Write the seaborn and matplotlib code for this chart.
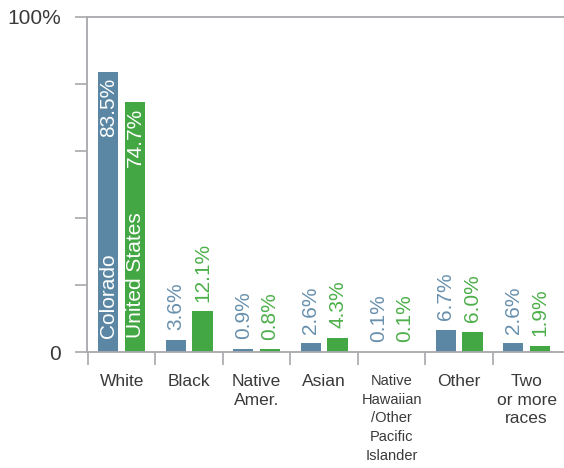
import matplotlib
matplotlib.use("Agg")
import matplotlib.pyplot as plt
import seaborn as sns
import pandas as pd
import numpy as np

categories = ["White", "Black", "Native\nAmer.", "Asian",
              "Native\nHawaiian\n/Other\nPacific\nIslander",
              "Other", "Two\nor more\nraces"]
colorado = [83.5, 3.6, 0.9, 2.6, 0.1, 6.7, 2.6]
united_states = [74.7, 12.1, 0.8, 4.3, 0.1, 6.0, 1.9]
series = ["Colorado", "United States"]
y_ticks = [0, 20, 40, 60, 80, 100]
y_tick_labels = ["0", "", "", "", "", "100%"]

bar_colors = ["#5b87a4", "#43a843"]
text_colors = ["#6890ad", "#4daf4a"]
axis_color = "#a8a8ad"
label_color = "#3a3a3a"

sns.set_theme(style="white")
plt.rcParams["font.family"] = ["Liberation Sans", "DejaVu Sans"]

df = pd.DataFrame({
    "race": categories * 2,
    "pct": colorado + united_states,
    "area": [series[0]] * len(categories) + [series[1]] * len(categories),
})

fig = plt.figure(figsize=(5.64, 4.68), dpi=100)
ax = fig.add_axes([87 / 564, 116 / 468, 477 / 564, 335 / 468])

sns.barplot(data=df, x="race", y="pct", hue="area", order=categories,
            hue_order=series, palette=bar_colors, width=0.79, gap=0.24,
            saturation=1, legend=False, ax=ax, edgecolor="none")

ax.set_xlim(-0.514, 6.553)
ax.set_ylim(0, 100)
ax.set_xlabel("")
ax.set_ylabel("")

# spines: left, bottom and a full-width rule at 100%
for side in ["left", "bottom", "top"]:
    ax.spines[side].set_visible(True)
    ax.spines[side].set_color(axis_color)
    ax.spines[side].set_linewidth(1.3)
ax.spines["right"].set_visible(False)

ax.set_yticks(y_ticks)
ax.set_yticklabels(y_tick_labels, fontsize=15, color=label_color)
ax.tick_params(axis="y", which="major", length=8.6, width=1.2,
               color=axis_color, direction="out", pad=10, left=True)

ax.set_xticks(range(len(categories)))
ax.set_xticklabels(categories, fontsize=12.5, color=label_color,
                   linespacing=1.3, va="top")
small = ax.xaxis.get_ticklabels()[4]
small.set_fontsize(10.5)
small.set_linespacing(1.42)
ax.set_xticks(np.arange(len(categories)) - 0.5, minor=True)
ax.tick_params(axis="x", which="major", length=0, pad=16)
ax.tick_params(axis="x", which="minor", length=9.4, width=1.2,
               color=axis_color, direction="out", bottom=True)

# value labels
for s, cont in enumerate(ax.containers):
    for i, bar in enumerate(cont):
        x = bar.get_x() + bar.get_width() / 2
        h = bar.get_height()
        vals = colorado if s == 0 else united_states
        label = f"{vals[i]:.1f}%"
        if i == 0:
            ax.annotate(label, (x, h), xytext=(0, -4), textcoords="offset points",
                        rotation=90, ha="center", va="top", fontsize=15,
                        color="white")
            ax.annotate(series[s], (x, 0), xytext=(0, 10), textcoords="offset points",
                        rotation=90, ha="center", va="bottom", fontsize=15,
                        color="white")
        else:
            ax.annotate(label, (x, h), xytext=(0, 7), textcoords="offset points",
                        rotation=90, ha="center", va="bottom", fontsize=15,
                        color=text_colors[s])

fig.savefig("out.png", dpi=100)
